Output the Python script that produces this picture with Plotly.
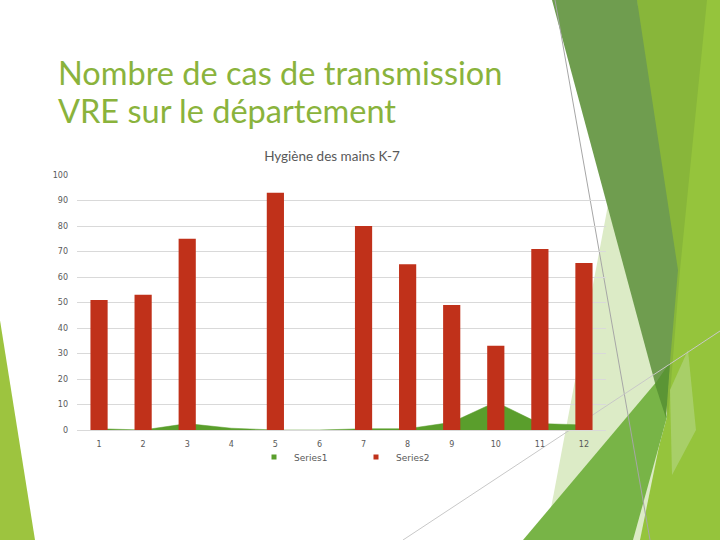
import plotly.graph_objects as go

# ---- data ----
categories = [1, 2, 3, 4, 5, 6, 7, 8, 9, 10, 11, 12]
tick_labels = ["1", "2", "3", "4", "5", "6", "7", "8", "9", "10", "11", "12"]
series1 = [0.5, 0, 2.5, 0.7, 0, 0, 0.5, 0.5, 3, 11, 2.5, 2]
series2 = [51, 53, 75, None, 93, None, 80, 65, 49, 33, 71, 65.5]
series_names = ["Series1", "Series2"]
chart_title = "Hygiène des mains K-7"
slide_title_lines = ["Nombre de cas de transmission", "VRE sur le département"]

# ---- layout geometry (pixels) ----
W, H = 720, 540
PL, PR, PT, PB = 77, 606, 175, 430  # plot area box


def px(x, y):
    return (x - PL) / (PR - PL), (PB - y) / (PB - PT)


def path(points):
    s = ""
    for i, (x, y) in enumerate(points):
        u, v = px(x, y)
        s += ("M" if i == 0 else "L") + f"{u:.4f},{v:.4f} "
    return s + "Z"


GREEN = "#5A9E2C"
RED = "#C0311A"
GRAY = "#595959"

fig = go.Figure()

fig.add_trace(go.Scatter(
    x=categories, y=series1, name=series_names[0], mode="lines",
    fill="tozeroy", fillcolor=GREEN, line=dict(color=GREEN, width=0.5),
    showlegend=False, xaxis="x", yaxis="y",
))
fig.add_trace(go.Bar(
    x=categories, y=series2, name=series_names[1], marker_color=RED,
    marker_line_width=0, showlegend=False, xaxis="x", yaxis="y2",
))
# legend entries (square markers like the original)
fig.add_trace(go.Scatter(
    x=[None], y=[None], mode="markers", name=series_names[0],
    marker=dict(symbol="square", size=5, color=GREEN), xaxis="x", yaxis="y",
))
fig.add_trace(go.Scatter(
    x=[None], y=[None], mode="markers", name=series_names[1],
    marker=dict(symbol="square", size=5, color=RED), xaxis="x", yaxis="y",
))

# ---- decorative slide shapes ----
shapes = []
decor = [
    ([(0, 320), (0, 540), (35, 540)], "#9DC43F"),
    ([(637, 0), (720, 0), (720, 540), (633, 540), (667, 417)], "#95C43C"),
    ([(637, 0), (707, 0), (680, 270), (668, 420)], "#88B63A"),
    ([(608, 205), (665, 417), (640, 540), (545, 540)], "#DCEBC6"),
    ([(670, 390), (688, 350), (696, 430), (672, 475)], "#A8CF68"),
    ([(552, 0), (637, 0), (678, 270), (665, 420)], "#6F9D4F"),
    ([(523, 540), (658, 380), (667, 417), (633, 540)], "#78B447"),
    ([(655, 384), (670, 362), (666, 418)], "#5B9535"),
]
for pts, col in decor:
    shapes.append(dict(type="path", xref="paper", yref="paper", path=path(pts),
                       fillcolor=col, line=dict(width=0), layer="below"))
for (a, b, c) in [((555, 0), (650, 540), "#A6A6A6"),
                  ((403, 540), (720, 331), "#C8C8C8")]:
    x0, y0 = px(*a)
    x1, y1 = px(*b)
    shapes.append(dict(type="line", xref="paper", yref="paper", x0=x0, y0=y0,
                       x1=x1, y1=y1, line=dict(color=c, width=1),
                       layer="below"))

annotations = []
for i, line in enumerate(slide_title_lines):
    u, v = px(56, 72 + 38 * i)
    annotations.append(dict(text=line, xref="paper", yref="paper", x=u, y=v,
                            xanchor="left", yanchor="middle", showarrow=False,
                            font=dict(family="Lato", size=32.5, color="#8AB33C")))

fig.update_layout(
    width=W, height=H,
    margin=dict(l=PL, r=W - PR, t=PT, b=H - PB),
    paper_bgcolor="white", plot_bgcolor="rgba(0,0,0,0)",
    barmode="overlay", bargap=0.61,
    font=dict(family="DejaVu Sans", color=GRAY),
    title=dict(text=chart_title, x=332 / W, xanchor="center",
               y=1 - 156 / H, yanchor="middle",
               font=dict(family="Lato", size=13.5, color=GRAY)),
    xaxis=dict(range=[0.5, 12.5], tickmode="array", tickvals=categories,
               ticktext=tick_labels, showgrid=False, zeroline=False,
               showline=False, ticks="", ticklabelstandoff=8,
               tickfont=dict(size=8, color=GRAY)),
    yaxis=dict(range=[0, 100], dtick=10, showgrid=True, gridcolor="#D9D9D9",
               gridwidth=1, zeroline=True, zerolinecolor="#D9D9D9",
               zerolinewidth=1, showline=False, ticks="",
               ticklabelstandoff=8, tickfont=dict(size=8, color=GRAY)),
    yaxis2=dict(range=[0, 100], overlaying="y", visible=False),
    legend=dict(orientation="h", x=(254 - PL) / (PR - PL), xanchor="left",
                y=px(0, 457)[1], yanchor="middle", entrywidth=57,
                font=dict(size=9, color=GRAY), bgcolor="rgba(0,0,0,0)"),
    shapes=shapes, annotations=annotations,
)

fig.write_html("out.html")
